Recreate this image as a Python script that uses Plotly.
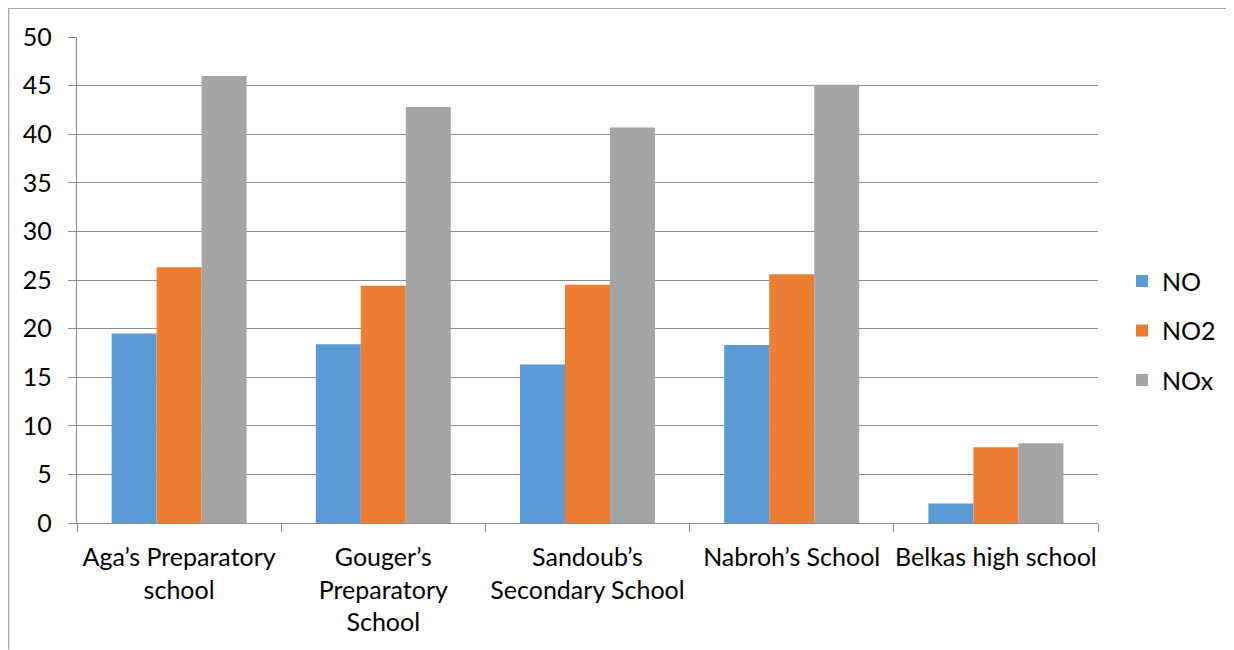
import plotly.graph_objects as go

categories = [
    "Aga’s Preparatory<br>school",
    "Gouger’s<br>Preparatory<br>School",
    "Sandoub’s<br>Secondary School",
    "Nabroh’s School",
    "Belkas high school",
]
no_values = [19.5, 18.4, 16.3, 18.3, 2.0]
no2_values = [26.3, 24.4, 24.5, 25.6, 7.8]
nox_values = [46.0, 42.8, 40.7, 45.1, 8.2]
y_ticks = [0, 5, 10, 15, 20, 25, 30, 35, 40, 45, 50]

series = [
    ("NO", no_values, "#5B9BD5"),
    ("NO2", no2_values, "#ED7D31"),
    ("NOx", nox_values, "#A5A5A5"),
]

FONT = "Lato"
OFF = 8  # page body margin
W, H = 1234 - OFF, 650 - OFF
# plot area in page pixels
PL, PR, PT, PB = 77, 1098, 37.3, 523.3
ML, MT = PL - OFF, PT - OFF
MR, MB = (W + OFF) - PR, (H + OFF) - PB
pw, ph = PR - PL, PB - PT

fig = go.Figure()
for name, vals, color in series:
    fig.add_trace(go.Bar(
        name=name, x=categories, y=vals,
        marker=dict(color=color, line=dict(width=0)),
        legendgroup=name,
    ))

def px_x(p):
    return (p - PL) / pw

def px_y(p):
    return (PB - p) / ph

grid = "#8C8C8C"
fig.update_layout(
    width=W, height=H,
    margin=dict(l=ML, r=MR, t=MT, b=MB, pad=0, autoexpand=False),
    paper_bgcolor="white", plot_bgcolor="white",
    barmode="group", bargap=0.339, bargroupgap=0,
    font=dict(family=FONT, size=25, color="#000000"),
    showlegend=True,
    legend=dict(
        x=px_x(1122), y=px_y(331), xanchor="left", yanchor="middle",
        font=dict(family=FONT, size=25, color="#000000"),
        tracegroupgap=14, bgcolor="rgba(0,0,0,0)",
    ),
    xaxis=dict(
        showline=True, linecolor=grid, linewidth=1.3,
        ticks="outside", tickson="boundaries", ticklen=8, tickcolor=grid, tickwidth=1.3,
        showgrid=False, tickfont=dict(family=FONT, size=25),
        tickangle=0, automargin=False,
        ticklabelstandoff=12,
        fixedrange=True,
    ),
    yaxis=dict(
        range=[0, 50], tickvals=y_ticks,
        showline=True, linecolor=grid, linewidth=1.3,
        showgrid=True, gridcolor=grid, gridwidth=1.3,
        ticks="outside", ticklen=8, tickcolor=grid, tickwidth=1.3,
        tickfont=dict(family=FONT, size=25), zeroline=False,
        automargin=False,
        ticklabelstandoff=11,
        fixedrange=True,
    ),
    shapes=[
        dict(type="line", xref="paper", yref="paper",
             x0=px_x(OFF), x1=px_x(1234), y0=px_y(OFF + 0.7), y1=px_y(OFF + 0.7),
             line=dict(color="#A6A6A6", width=1.3)),
        dict(type="line", xref="paper", yref="paper",
             x0=px_x(OFF + 0.7), x1=px_x(OFF + 0.7), y0=px_y(OFF), y1=px_y(650),
             line=dict(color="#A6A6A6", width=1.3)),
    ],
)

fig.write_html("out.html")
